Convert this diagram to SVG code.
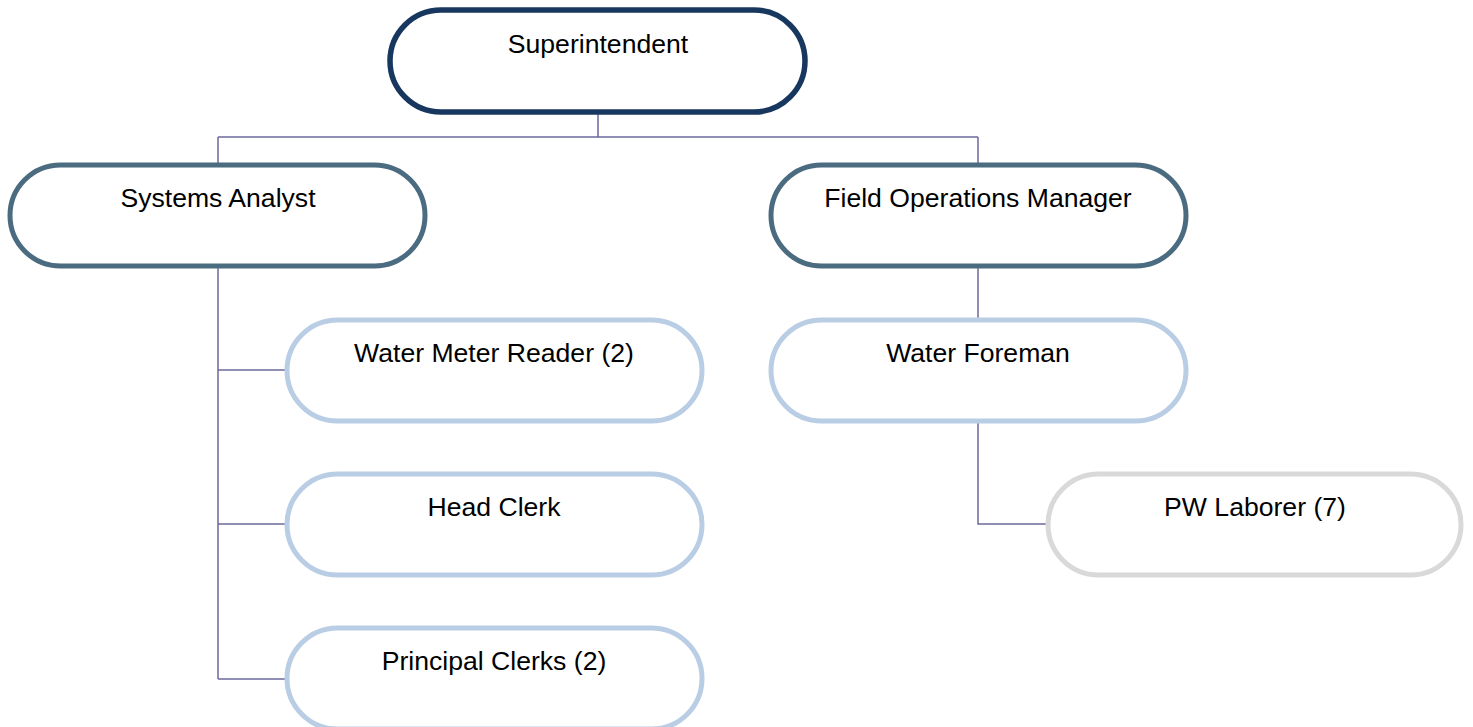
<svg xmlns="http://www.w3.org/2000/svg" width="1473" height="727" viewBox="0 0 1473 727">
  <style>
    .box { fill: #ffffff; stroke-width: 5; }
    .l1 { stroke: #17375e; stroke-width: 5.5; }
    .l2 { stroke: #4a6b80; }
    .l3 { stroke: #b9cde5; }
    .l4 { stroke: #d9d9d9; }
    .lbl { font-family: "Liberation Sans", Arial, sans-serif; font-size: 26.6px; fill: #000000; text-anchor: middle; }
    .conn { fill: none; stroke: #6d6a9e; stroke-width: 1.5; }
  </style>
  <rect width="1473" height="727" fill="#ffffff"/>

  <!-- reporting lines -->
  <g id="connectors">
    <path class="conn" d="M598,114 V137 M218,137 H978 M218,137 V163 M978,137 V163"/>
    <path class="conn" d="M218,268 V679 M218,370 H287 M218,524 H287 M218,679 H287"/>
    <path class="conn" d="M978,268 V320 M978,421 V524 H1048"/>
  </g>

  <g id="superintendent">
    <rect class="box l1" x="390" y="10" width="415" height="102" rx="51"/>
    <text class="lbl" x="598" y="53">Superintendent</text>
  </g>
  <g id="systems-analyst">
    <rect class="box l2" x="10" y="165" width="415" height="101" rx="50.5"/>
    <text class="lbl" x="218" y="207">Systems Analyst</text>
  </g>
  <g id="field-operations-manager">
    <rect class="box l2" x="771" y="165" width="415" height="101" rx="50.5"/>
    <text class="lbl" x="978" y="207">Field Operations Manager</text>
  </g>
  <g id="water-meter-reader">
    <rect class="box l3" x="287" y="320" width="415" height="101" rx="50.5"/>
    <text class="lbl" x="494" y="362">Water Meter Reader (2)</text>
  </g>
  <g id="head-clerk">
    <rect class="box l3" x="287" y="474" width="415" height="101" rx="50.5"/>
    <text class="lbl" x="494" y="516">Head Clerk</text>
  </g>
  <g id="principal-clerks">
    <rect class="box l3" x="287" y="628" width="415" height="101" rx="50.5"/>
    <text class="lbl" x="494" y="670">Principal Clerks (2)</text>
  </g>
  <g id="water-foreman">
    <rect class="box l3" x="771" y="320" width="415" height="101" rx="50.5"/>
    <text class="lbl" x="978" y="362">Water Foreman</text>
  </g>
  <g id="pw-laborer">
    <rect class="box l4" x="1048" y="474" width="413" height="101" rx="50.5"/>
    <text class="lbl" x="1255" y="516">PW Laborer (7)</text>
  </g>
</svg>
